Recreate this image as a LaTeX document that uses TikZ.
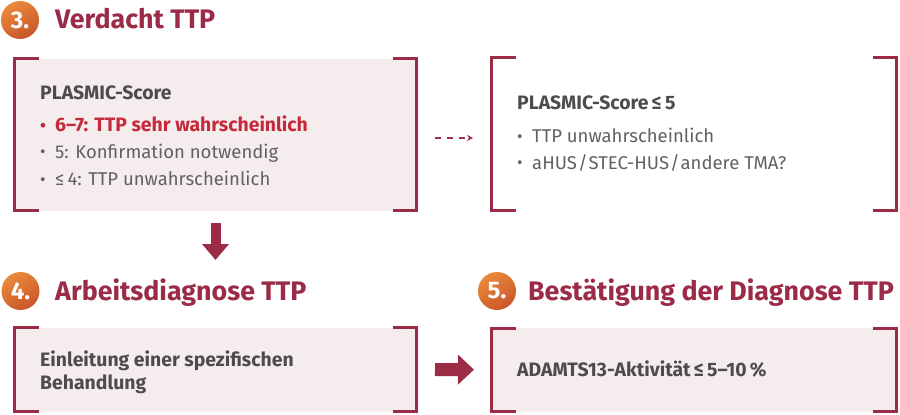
\documentclass[tikz,border=0pt]{standalone}
\usepackage{fontspec}
\setmainfont{Fira Sans}
\usetikzlibrary{arrows.meta}
\definecolor{maroon}{HTML}{9B2B47}
\definecolor{panelpink}{HTML}{F5ECEE}
\definecolor{labelgray}{HTML}{4E4B4C}
\definecolor{bodygray}{HTML}{636061}
\definecolor{alertred}{HTML}{C52A3A}
\definecolor{orangeA}{HTML}{EA8A3C}
\definecolor{orangeB}{HTML}{C9562A}
\newcommand\bul{\makebox[15pt][l]{\fontsize{17}{17}\selectfont\raisebox{0.5pt}{•}}}
\newcommand\mybrackets[1]{%
  \draw[bracket] ([xshift=24pt]#1.north west) -- (#1.north west) -- (#1.south west) -- ([xshift=24pt]#1.south west);
  \draw[bracket] ([xshift=-24pt]#1.north east) -- (#1.north east) -- (#1.south east) -- ([xshift=-24pt]#1.south east);}
\begin{document}
\begin{tikzpicture}[x=1pt,y=-1pt,
  bracket/.style={draw=maroon, line width=3pt},
  panel/.style={rectangle, inner sep=0, outer sep=0, draw=none},
  head/.style={anchor=base west, inner sep=0, text=maroon, font=\fontsize{26.8}{30}\selectfont\bfseries},
  numcirc/.style={circle, minimum size=38pt, inner sep=0, text=white,
    font=\fontsize{24}{24}\selectfont\bfseries, shading=axis, top color=orangeA, bottom color=orangeB, shading angle=30},
  label/.style={anchor=base west, inner sep=0, text=labelgray, font=\fontsize{19.4}{22.7}\selectfont\bfseries},
  body/.style={anchor=base west, inner sep=0, text=bodygray, font=\fontsize{18.5}{22}\selectfont},
  alert/.style={anchor=base west, inner sep=0, text=alertred, font=\fontsize{19.4}{22}\selectfont\bfseries},
  dasharrow/.style={draw=maroon, line width=1.3pt, dash pattern=on 6pt off 6pt, -{Stealth[length=6pt,width=6pt]}},
  bigarrow/.style={draw=maroon, line width=10pt, -{Triangle[length=16pt,width=26pt]}},
  sidearrow/.style={draw=maroon, line width=13pt, -{Triangle[length=16pt,width=29pt]}}
]
\useasboundingbox (0,0) rectangle (900,415);

% panels
\node[panel, fill=panelpink, minimum width=402pt, minimum height=152pt] (b1) at (215.5,134.5) {};
\node[panel, minimum width=405pt, minimum height=153pt] (b2) at (694,134) {};
\node[panel, fill=panelpink, minimum width=402pt, minimum height=84pt] (b3) at (215.5,369.5) {};
\node[panel, fill=panelpink, minimum width=405pt, minimum height=83.5pt] (b4) at (694,369.75) {};
\mybrackets{b1}
\mybrackets{b2}
\mybrackets{b3}
\mybrackets{b4}

% headings
\node[numcirc] (c3) at (20,20) {3.};
\node[head] (h3) at (55,28.5) {Verdacht TTP};
\node[numcirc] (c4) at (20.5,291) {4.};
\node[head] (h4) at (55,300) {Arbeitsdiagnose TTP};
\node[numcirc] (c5) at (497,291) {5.};
\node[head] (h5) at (528,300) {Bestätigung der Diagnose TTP};

% box 1 text
\node[label] (t1) at (40,99) {PLASMIC-Score};
\node[alert] (t1a) at (40,131.7) {\bul 6–7: TTP sehr wahrscheinlich};
\node[body] (t1b) at (40,158.3) {\bul 5: Konfirmation notwendig};
\node[body] (t1c) at (40,185.5) {\bul ≤\,4: TTP unwahrscheinlich};

% box 2 text
\node[label] (t2) at (517,109.3) {PLASMIC-Score\,≤\,5};
\node[body] (t2a) at (517,142.5) {\bul TTP unwahrscheinlich};
\node[body] (t2b) at (517,169.3) {\bul aHUS\kern1pt/\kern1pt STEC-HUS\kern1pt/\kern1pt andere TMA?};

% box 3 text
\node[label] (t3) at (40,366.7) {Einleitung einer spezifischen};
\node[label] (t3b) at (40,389.3) {Behandlung};

% box 4 text
\node[label] (t4) at (517,376.7) {ADAMTS13-Aktivität\,≤\,5–10\,\%};

% connectors
\coordinate (a4) at (215.5,260);
\draw[dasharrow, shorten <=18.5pt, shorten >=18.5pt] ([yshift=-3.5pt]b1.east) -- ([yshift=-4pt]b2.west);
\draw[bigarrow, shorten <=12.5pt] (b1.south) -- (a4);
\draw[sidearrow, shorten <=18.5pt, shorten >=17.5pt] (b3.east) -- (b4.west);
\end{tikzpicture}
\end{document}
